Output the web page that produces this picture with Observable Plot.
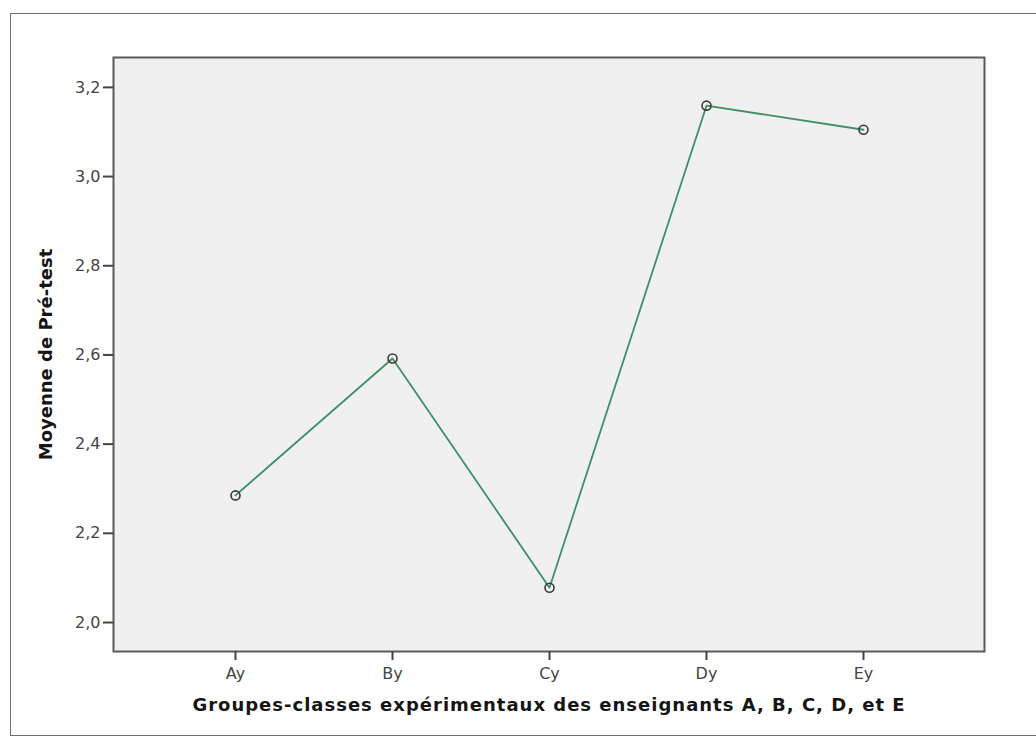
<!DOCTYPE html>
<html>
<head>
<meta charset="utf-8">
<script src="https://cdn.jsdelivr.net/npm/d3@7"></script>
<script src="https://cdn.jsdelivr.net/npm/@observablehq/plot@0.6"></script>
<style>
  html, body { margin: 0; padding: 0; background: #fff; }
  #wrap { position: relative; width: 1036px; height: 740px; overflow: hidden; }
  #outer { position: absolute; left: 10px; top: 13px; width: 1040px; height: 723px; border: 1.5px solid #6e6e6e; box-sizing: border-box; }
  #chart { position: absolute; left: 0; top: 0; }
</style>
</head>
<body>
<div id="wrap">
  <div id="outer"></div>
  <div id="chart"></div>
</div>
<script>
const groups = ["Ay", "By", "Cy", "Dy", "Ey"];
const means = [2.285, 2.592, 2.078, 3.159, 3.105];
const yTicks = [2.0, 2.2, 2.4, 2.6, 2.8, 3.0, 3.2];
const xTitle = "Groupes-classes expérimentaux des enseignants A, B, C, D, et E";
const yTitle = "Moyenne de Pré-test";

const data = groups.map((g, i) => ({group: g, mean: means[i]}));
const fmt = d => d.toFixed(1).replace(".", ",");

const chart = Plot.plot({
  width: 1036,
  height: 740,
  marginLeft: 113,
  marginRight: 52,
  marginTop: 57,
  marginBottom: 89,
  style: {background: "transparent", fontFamily: "DejaVu Sans, sans-serif", fontSize: "16px", color: "#444"},
  x: {type: "point", domain: groups, padding: 0.77},
  y: {domain: [1.935, 3.267]},
  marks: [
    Plot.frame({fill: "#f0f0f0", stroke: "#5a5a5a", strokeWidth: 2}),
    Plot.axisX({ticks: groups, tickSize: 9, tickPadding: 7, fontSize: 16, stroke: "#444", strokeWidth: 2, fill: "#444", label: null}),
    Plot.axisY({ticks: yTicks, tickFormat: fmt, tickSize: 10, tickPadding: 3, fontSize: 16, stroke: "#444", strokeWidth: 2, fill: "#444", label: null}),
    Plot.line(data, {x: "group", y: "mean", stroke: "#3f8f6b", strokeWidth: 1.8}),
    Plot.dot(data, {x: "group", y: "mean", r: 4.5, stroke: "#3a3a3a", strokeWidth: 1.6, fill: "none"}),
    Plot.text([xTitle], {text: d => d, frameAnchor: "bottom", dy: 59, fontWeight: "bold", fontSize: 18, fill: "#151515", fontFamily: "DejaVu Sans, sans-serif"}),
    Plot.text([yTitle], {text: d => d, frameAnchor: "left", textAnchor: "middle", dx: -67, rotate: -90, fontWeight: "bold", fontSize: 18, fill: "#151515", fontFamily: "DejaVu Sans, sans-serif"})
  ]
});
d3.select(chart).selectAll("text")
  .filter(function() { return this.textContent === xTitle; })
  .attr("letter-spacing", "1px");
document.getElementById("chart").appendChild(chart);
</script>
</body>
</html>
